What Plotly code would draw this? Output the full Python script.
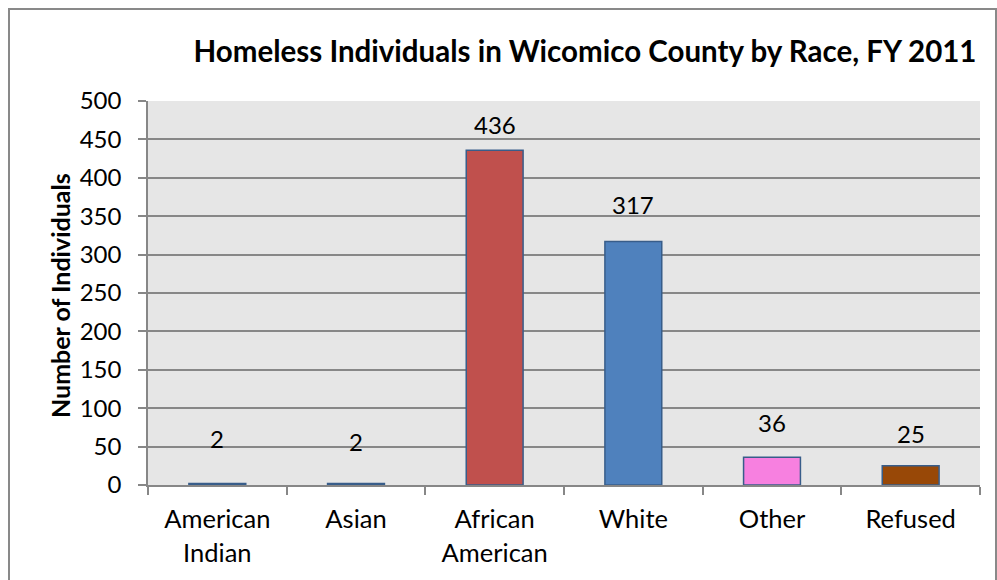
import plotly.graph_objects as go

# Homeless individuals by race, FY 2011
categories = ["American<br>Indian", "Asian", "African<br>American", "White", "Other", "Refused"]
counts = [2, 2, 436, 317, 36, 25]
bar_colors = ["#4F81BD", "#4F81BD", "#C0504D", "#4F81BD", "#F780E0", "#984807"]
# vertical pixel offsets of the value labels above each bar
label_offsets = [45, 42, 26, 37, 35, 32]

W, H = 997, 580
ml, mr, mt, mb = 148, 17, 101, 95
pw, ph = W - ml - mr, H - mt - mb

FONT = "Lato"

fig = go.Figure()
fig.add_trace(go.Bar(
    x=categories,
    y=counts,
    marker=dict(color=bar_colors, line=dict(color="#385D8A", width=1.5)),
    width=0.41,
    hoverinfo="x+y",
))

for cat, v, off in zip(categories, counts, label_offsets):
    fig.add_annotation(
        x=cat, y=v, text=str(v), showarrow=False,
        yshift=off, yanchor="middle",
        font=dict(family=FONT, size=24, color="#000000"),
    )

# y-axis title
fig.add_annotation(
    xref="paper", yref="paper", x=(60 - ml) / pw, y=(485 - 296) / ph,
    text="<b>Number of Individuals</b>", textangle=-90, showarrow=False,
    xanchor="center", yanchor="middle",
    font=dict(family=FONT, size=25, color="#000000"),
)

# outer chart border
fig.add_shape(
    type="rect", xref="paper", yref="paper",
    x0=(9 - ml) / pw, x1=(996 - ml) / pw,
    y0=-(H - mt - ph + 20) / ph, y1=1 + (mt - 9) / ph,
    line=dict(color="#898989", width=2), fillcolor="rgba(0,0,0,0)", layer="below",
)

fig.update_layout(
    width=W, height=H,
    margin=dict(l=ml, r=mr, t=mt, b=mb),
    paper_bgcolor="#FFFFFF",
    plot_bgcolor="#E6E6E6",
    showlegend=False,
    bargap=0.59,
    title=dict(
        text="<b>Homeless Individuals in Wicomico County by Race, FY 2011</b>",
        xref="paper", x=(585 - ml) / pw, xanchor="center",
        yref="container", y=1 - 52 / H, yanchor="middle",
        font=dict(family=FONT, size=29.5, color="#000000"),
    ),
    font=dict(family=FONT, color="#000000"),
)

fig.update_yaxes(
    range=[0, 500], dtick=50, tick0=0,
    showgrid=True, gridcolor="#878787", gridwidth=1.5,
    showline=True, linecolor="#878787", linewidth=1.5,
    ticks="outside", ticklen=8, tickcolor="#878787", tickwidth=1.5,
    ticklabelstandoff=12,
    tickfont=dict(family=FONT, size=24, color="#000000"),
    zeroline=False, fixedrange=True,
)
fig.update_xaxes(
    showgrid=False,
    showline=True, linecolor="#878787", linewidth=1.5,
    ticks="outside", ticklen=8, tickcolor="#878787", tickwidth=1.5,
    tickson="boundaries",
    ticklabelstandoff=11,
    tickfont=dict(family=FONT, size=25.5, color="#000000"),
    fixedrange=True,
)

fig.write_html("out.html")
